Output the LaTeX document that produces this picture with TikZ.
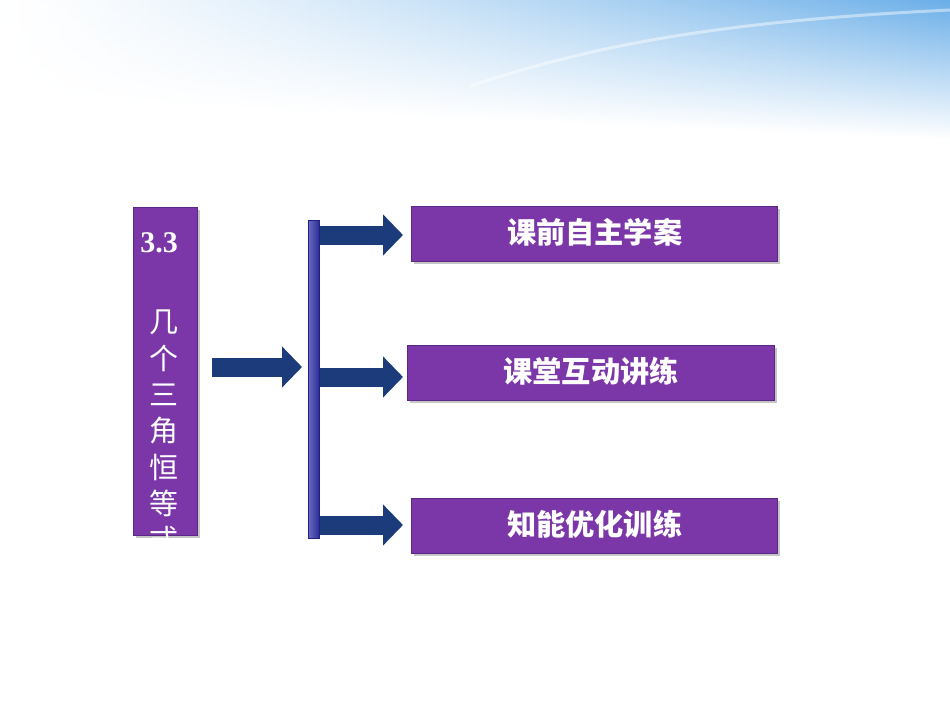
\documentclass[tikz,border=0pt]{standalone}
\usepackage{fontspec}
\setmainfont{Liberation Serif}
\newfontfamily\cjk{Noto Sans CJK SC}
\usetikzlibrary{arrows.meta,shadows}
\definecolor{boxpurple}{HTML}{7B36A8}
\definecolor{boxedge}{HTML}{5C2888}
\definecolor{navy}{HTML}{1C3B7A}
\definecolor{barblue}{HTML}{2A2A9E}
\definecolor{sky}{HTML}{6AAEE8}
\begin{document}
\begin{tikzpicture}[x=0.5pt,y=0.5pt,
  purplebox/.style={draw=boxedge, line width=0.6pt, fill=boxpurple,
    drop shadow={shadow xshift=1.2pt, shadow yshift=-1.2pt, fill=black!45, opacity=0.5},
    inner sep=0pt},
  boxtext/.style={text=white, font=\cjk\bfseries\fontsize{14.6pt}{16pt}\selectfont},
  sidetext/.style={text=white, font=\cjk\fontsize{14.5pt}{16pt}\selectfont, inner sep=0pt},
  blockarrow/.style={draw=navy, line width=9.5pt,
    -{Triangle[length=10pt,width=20pt]}},
]
\useasboundingbox (0,0) rectangle (950,-713);
% background sky
\fill[white] (0,0) rectangle (950,-713);
\foreach \i in {0,...,94}{
  \pgfmathsetmacro{\p}{100*((\i+0.5)/95)^1.3}
  \pgfmathsetmacro{\yb}{-100-40*((\i+0.5)/95)}
  \fill[top color=sky!\p!white, bottom color=white, draw=none]
    ({10*\i-0.4},0) rectangle ({10*\i+10.4},\yb);
}
\draw[white, opacity=0.45, line width=1.5pt]
  (470,-86) .. controls (580,-50) and (700,-22) .. (950,-10);

% left box
\node[purplebox, minimum width=32pt, minimum height=164pt, anchor=north west]
  (side) at (133,-207) {};
\node[text=white, font=\bfseries\fontsize{15pt}{16pt}\selectfont, inner sep=0pt]
  (num) at (159,-243) {3.3};
\foreach \c [count=\i] in {几,个,三,角,恒,等,式}
  \node[sidetext] (ch\i) at (164,{-322-36.3*(\i-1)}) {\c};

% vertical bar
\node[draw=barblue!80!black, line width=0.4pt, left color=barblue!70!white, right color=barblue,
  minimum width=5.5pt, minimum height=159pt, inner sep=0pt, anchor=north west]
  (bar) at (308,-220) {};

% right boxes
\node[purplebox, minimum width=183pt, minimum height=27.5pt, anchor=north west]
  (b1) at (411,-206) {};
\node[boxtext] (t1) at ([yshift=1pt]b1.center) {课前自主学案};
\node[purplebox, minimum width=183.5pt, minimum height=27.5pt, anchor=north west]
  (b2) at (407,-345) {};
\node[boxtext] (t2) at ([yshift=1pt]b2.center) {课堂互动讲练};
\node[purplebox, minimum width=183pt, minimum height=27.5pt, anchor=north west]
  (b3) at (411,-498) {};
\node[boxtext] (t3) at ([yshift=1pt]b3.center) {知能优化训练};

% arrows
\coordinate (a0) at (212,-367);
\draw[blockarrow, shorten >=3pt] (a0) -- (bar.west |- a0);
\draw[blockarrow, shorten >=4pt] (bar.east |- 0,-235) -- (b1.west |- 0,-235);
\draw[blockarrow, shorten >=2pt] (bar.east |- 0,-377) -- (b2.west |- 0,-377);
\draw[blockarrow, shorten >=4pt] (bar.east |- 0,-525) -- (b3.west |- 0,-525);
\end{tikzpicture}
\end{document}
